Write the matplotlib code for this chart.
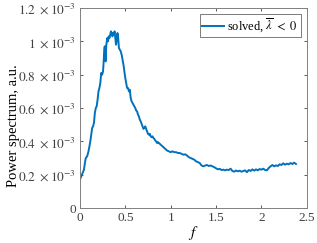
import matplotlib
matplotlib.use('Agg')
import matplotlib.pyplot as plt
import numpy as np

plt.rcParams['font.family'] = ['Liberation Serif', 'DejaVu Serif']
plt.rcParams['mathtext.fontset'] = 'stix'

# frequency and spectrum (x1e-3)
f = [0.00, 0.015, 0.03, 0.045, 0.055, 0.065, 0.08, 0.095, 0.105, 0.115,
     0.125, 0.135, 0.145, 0.155, 0.165, 0.175, 0.185, 0.195, 0.205, 0.215,
     0.225, 0.235, 0.245, 0.255, 0.262, 0.268, 0.274, 0.279, 0.284, 0.29,
     0.296, 0.302, 0.31, 0.318, 0.326, 0.334, 0.342, 0.35, 0.358, 0.366,
     0.374, 0.382, 0.39, 0.398, 0.406, 0.414, 0.422, 0.43, 0.44, 0.45,
     0.46, 0.47, 0.48, 0.49, 0.50, 0.51, 0.52, 0.53, 0.54, 0.55,
     0.56, 0.57, 0.58, 0.59, 0.60, 0.61, 0.62, 0.63, 0.64, 0.65,
     0.66, 0.67, 0.68, 0.69, 0.70, 0.71, 0.72, 0.73, 0.74, 0.75,
     0.76, 0.77, 0.78, 0.79, 0.80, 0.81, 0.82, 0.83, 0.84, 0.85,
     0.86, 0.88, 0.90, 0.92, 0.94, 0.96, 0.98, 1.00, 1.02, 1.04,
     1.06, 1.08, 1.10, 1.12, 1.14, 1.16, 1.18, 1.20, 1.22, 1.24,
     1.26, 1.28, 1.30, 1.32, 1.34, 1.36, 1.38, 1.40, 1.42, 1.44,
     1.46, 1.48, 1.50, 1.52, 1.54, 1.56, 1.58, 1.60, 1.62, 1.64,
     1.66, 1.68, 1.70, 1.72, 1.74, 1.76, 1.78, 1.80, 1.82, 1.84,
     1.86, 1.88, 1.90, 1.92, 1.94, 1.96, 1.98, 2.00, 2.02, 2.04,
     2.06, 2.08, 2.10, 2.12, 2.14, 2.16, 2.18, 2.20, 2.22, 2.24,
     2.26, 2.28, 2.30, 2.32, 2.34, 2.36, 2.38]
P = [0.17, 0.19, 0.21, 0.23, 0.27, 0.30, 0.31, 0.34, 0.37, 0.40,
     0.44, 0.48, 0.49, 0.51, 0.57, 0.60, 0.61, 0.65, 0.70, 0.72,
     0.75, 0.81, 0.80, 0.82, 0.88, 0.95, 0.97, 0.92, 0.88, 0.97,
     1.00, 1.02, 1.00, 1.03, 1.02, 1.04, 1.06, 1.05, 1.03, 1.05,
     1.04, 1.06, 1.02, 0.98, 1.01, 1.05, 1.02, 0.96, 0.95, 0.94,
     0.92, 0.89, 0.86, 0.82, 0.78, 0.75, 0.72, 0.72, 0.70, 0.71,
     0.66, 0.64, 0.63, 0.62, 0.61, 0.60, 0.585, 0.58, 0.56, 0.55,
     0.53, 0.52, 0.505, 0.49, 0.475, 0.48, 0.49, 0.475, 0.46, 0.445,
     0.44, 0.445, 0.43, 0.425, 0.43, 0.42, 0.415, 0.405, 0.40, 0.39,
     0.395, 0.385, 0.375, 0.365, 0.355, 0.345, 0.34, 0.335, 0.34, 0.335,
     0.335, 0.33, 0.33, 0.325, 0.32, 0.322, 0.315, 0.305, 0.30, 0.295,
     0.29, 0.28, 0.275, 0.27, 0.255, 0.25, 0.255, 0.258, 0.252, 0.255,
     0.25, 0.245, 0.238, 0.232, 0.235, 0.228, 0.23, 0.226, 0.23, 0.228,
     0.236, 0.222, 0.218, 0.225, 0.22, 0.224, 0.218, 0.222, 0.226, 0.215,
     0.228, 0.222, 0.232, 0.224, 0.232, 0.226, 0.234, 0.23, 0.236, 0.228,
     0.226, 0.24, 0.25, 0.258, 0.25, 0.256, 0.252, 0.262, 0.258, 0.268,
     0.26, 0.266, 0.262, 0.27, 0.264, 0.272, 0.264]

yticks = [0, 0.2e-3, 0.4e-3, 0.6e-3, 0.8e-3, 1.0e-3, 1.2e-3]
ytick_labels = ['0', r'$0.2\ \times10^{-3}$', r'$0.4\ \times10^{-3}$',
                r'$0.6\ \times10^{-3}$', r'$0.8\ \times10^{-3}$',
                r'$1\ \times10^{-3}$', r'$1.2\ \times10^{-3}$']
xticks = [0, 0.5, 1, 1.5, 2, 2.5]
xtick_labels = ['0', '0.5', '1', '1.5', '2', '2.5']

fig = plt.figure(figsize=(3.17, 2.43), dpi=100)
ax = fig.add_axes([0.252, 0.144, 0.716, 0.823])

ax.plot(np.array(f), np.array(P) * 1e-3, color='#0072BD', lw=1.4,
        label=r'solved, $\overline{\lambda}\ <\ 0$')

ax.set_xlim(0, 2.5)
ax.set_ylim(0, 1.2e-3)
ax.set_xticks(xticks)
ax.set_xticklabels(xtick_labels)
ax.set_yticks(yticks)
ax.set_yticklabels(ytick_labels)
ax.tick_params(direction='in', top=True, right=True, length=2.5, width=0.6,
               colors='#404040', labelsize=9.5, pad=3)
for s in ax.spines.values():
    s.set_color('#808080')
    s.set_linewidth(0.7)

ax.set_xlabel('$f$', fontsize=11, labelpad=0)
ax.set_ylabel('Power spectrum, a.u.', fontsize=10.5)
ax.yaxis.set_label_coords(-0.265, 0.41)

leg = ax.legend(loc='upper right', fontsize=9, fancybox=False,
                handlelength=1.7, handletextpad=0.3, borderpad=0.2,
                borderaxespad=0.5)
leg.get_frame().set_edgecolor('#404040')
leg.get_frame().set_linewidth(0.6)

fig.savefig('out.png', dpi=100)
